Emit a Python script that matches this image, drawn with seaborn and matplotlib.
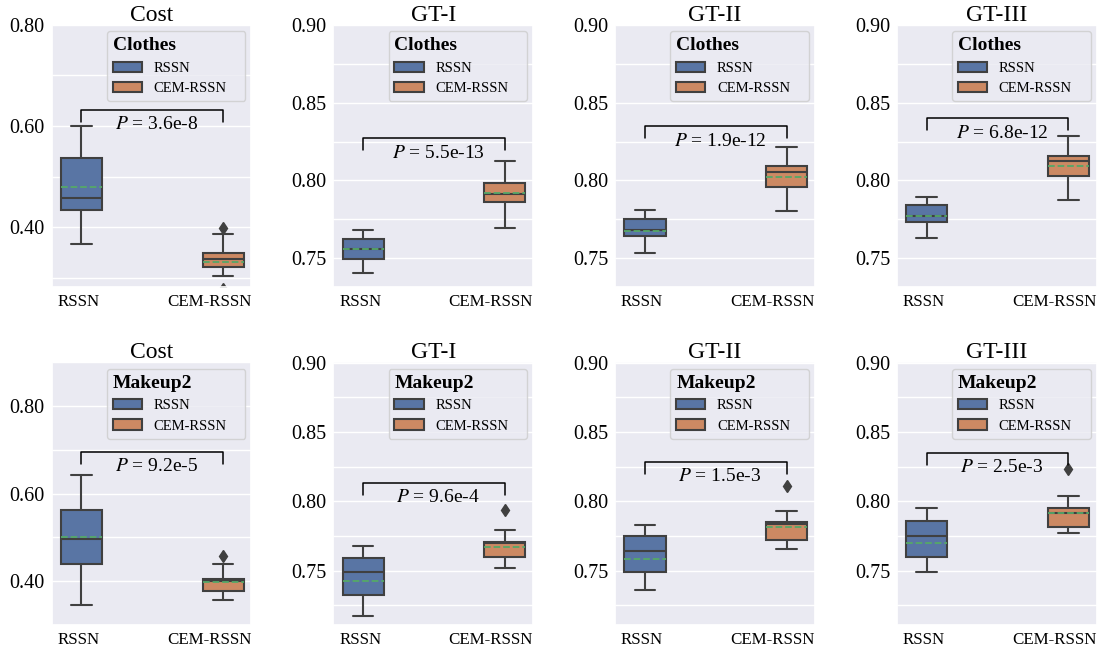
import matplotlib
matplotlib.use("Agg")
import matplotlib.pyplot as plt
import matplotlib.transforms as mtransforms
from matplotlib.patches import Patch
from matplotlib.ticker import MultipleLocator, FormatStrFormatter
import pandas as pd
import seaborn as sns


# ------------------ DATA ------------------

METHODS = ["RSSN", "CEM-RSSN"]
METRICS = ["Cost", "GT-I", "GT-II", "GT-III"]
DATASETS = ["Clothes", "Makeup2"]

# Clothes
clothes_cost_rssn = [0.366, 0.400, 0.435, 0.445, 0.457, 0.500, 0.536, 0.581, 0.600]
clothes_cost_cem = [0.220, 0.278, 0.303, 0.322, 0.328, 0.333, 0.338, 0.340, 0.345,
                    0.3495, 0.360, 0.387, 0.399]
clothes_gt1_rssn = [0.7402, 0.747, 0.7496, 0.7535, 0.7556, 0.761, 0.7625, 0.7663, 0.7683]
clothes_gt1_cem = [0.7691, 0.780, 0.7863, 0.789, 0.7912, 0.796, 0.7983, 0.8059, 0.8122]
clothes_gt2_rssn = [0.753, 0.757, 0.7642, 0.7656, 0.768, 0.768, 0.7753, 0.7753, 0.7811]
clothes_gt2_cem = [0.7803, 0.786, 0.7959, 0.799, 0.8051, 0.8055, 0.8094, 0.819, 0.8214]
clothes_gt3_rssn = [0.7631, 0.768, 0.773, 0.775, 0.777, 0.7776, 0.7843, 0.786, 0.789]
clothes_gt3_cem = [0.7871, 0.794, 0.8028, 0.806, 0.8124, 0.8126, 0.8154, 0.826, 0.8283]

# Makeup2
makeup2_cost_rssn = [0.3452, 0.400, 0.4397, 0.470, 0.4957, 0.530, 0.563, 0.6148, 0.6416]
makeup2_cost_cem = [0.357, 0.362, 0.378, 0.388, 0.401, 0.402, 0.406, 0.440, 0.457]
makeup2_gt1_rssn = [0.7173, 0.7174, 0.720, 0.7327, 0.734, 0.736, 0.7492, 0.7492, 0.750,
                    0.7593, 0.7593, 0.760, 0.7681]
makeup2_gt1_cem = [0.7521, 0.753, 0.756, 0.760, 0.762, 0.765, 0.770, 0.770, 0.7705,
                   0.7708, 0.771, 0.7792, 0.794]
makeup2_gt2_rssn = [0.7363, 0.7363, 0.737, 0.7492, 0.7492, 0.7495, 0.7645, 0.7645, 0.7645,
                    0.7753, 0.7753, 0.7757, 0.7832]
makeup2_gt2_cem = [0.766, 0.767, 0.770, 0.772, 0.774, 0.779, 0.7837, 0.784, 0.785,
                   0.7854, 0.7862, 0.7933, 0.8113]
makeup2_gt3_rssn = [0.7492, 0.7492, 0.750, 0.7597, 0.7597, 0.7605, 0.7748, 0.7748, 0.7752,
                    0.7861, 0.7861, 0.7867, 0.7952]
makeup2_gt3_cem = [0.7772, 0.7775, 0.7813, 0.7818, 0.7914, 0.7914, 0.7952, 0.8036, 0.8232]

p_clothes = ["3.6e-8", "5.5e-13", "1.9e-12", "6.8e-12"]
p_makeup2 = ["9.2e-5", "9.6e-4", "1.5e-3", "2.5e-3"]

SAMPLES = {
    "Clothes": [(clothes_cost_rssn, clothes_cost_cem),
                (clothes_gt1_rssn, clothes_gt1_cem),
                (clothes_gt2_rssn, clothes_gt2_cem),
                (clothes_gt3_rssn, clothes_gt3_cem)],
    "Makeup2": [(makeup2_cost_rssn, makeup2_cost_cem),
                (makeup2_gt1_rssn, makeup2_gt1_cem),
                (makeup2_gt2_rssn, makeup2_gt2_cem),
                (makeup2_gt3_rssn, makeup2_gt3_cem)],
}
PVALS = {"Clothes": p_clothes, "Makeup2": p_makeup2}


# ------------------ LAYOUT ------------------

YLIMS = {
    "Clothes": [(0.281, 0.8002), (0.731, 0.9002), (0.731, 0.9002), (0.731, 0.9002)],
    "Makeup2": [(0.30, 0.9002), (0.711, 0.9002), (0.711, 0.9002), (0.711, 0.9002)],
}
BRACKET_Y = {
    "Clothes": [0.632, 0.827, 0.8347, 0.8399],
    "Makeup2": [0.6953, 0.8132, 0.8285, 0.835],
}


# ------------------ STYLE ------------------

sns.set_theme(style="darkgrid")
SERIF = ["Liberation Serif", "DejaVu Serif"]
plt.rcParams["font.family"] = SERIF
plt.rcParams["mathtext.fontset"] = "stix"
plt.rcParams["text.color"] = "black"
plt.rcParams["xtick.color"] = "black"
plt.rcParams["ytick.color"] = "black"

GREEN = sns.color_palette("deep")[2]
LINE = "#404040"


# ------------------ PLOTTING ------------------

fig, axes = plt.subplots(2, 4, figsize=(10.99, 6.53), dpi=100)
fig.subplots_adjust(left=0.047, right=0.998, top=0.962, bottom=0.043,
                    wspace=0.41, hspace=0.285)

for r, ds in enumerate(DATASETS):
    for c, metric in enumerate(METRICS):
        ax = axes[r, c]
        rssn, cem = SAMPLES[ds][c]
        df = pd.DataFrame({
            "method": ["RSSN"] * len(rssn) + ["CEM-RSSN"] * len(cem),
            "value": rssn + cem,
        })

        sns.boxplot(
            data=df, x="method", y="value", hue="method",
            order=METHODS, hue_order=METHODS, palette="deep",
            width=0.29, linewidth=1.5, linecolor=LINE,
            showmeans=True, meanline=True,
            meanprops=dict(color=GREEN, linestyle="--", linewidth=1.3),
            flierprops=dict(marker="d", markersize=6,
                            markerfacecolor=LINE, markeredgecolor=LINE),
            legend=False, ax=ax,
        )

        ax.set_xlim(-0.21, 1.2)
        ax.set_ylim(*YLIMS[ds][c])
        ax.set_xlabel("")
        ax.set_ylabel("")
        ax.set_title(metric, fontsize=17, pad=3)

        if metric == "Cost":
            ax.yaxis.set_major_locator(MultipleLocator(0.2))
            ax.yaxis.set_minor_locator(MultipleLocator(0.1))
        else:
            ax.yaxis.set_major_locator(MultipleLocator(0.05))
            ax.yaxis.set_minor_locator(MultipleLocator(0.025))
        ax.yaxis.set_major_formatter(FormatStrFormatter("%.2f"))
        ax.grid(which="minor", axis="y", color="white", linewidth=1)
        ax.tick_params(axis="y", which="major", labelsize=14.5, pad=5, length=0)
        ax.tick_params(axis="y", which="minor", length=0)
        ax.tick_params(axis="x", labelsize=12.2, pad=5, length=0)

        # x labels sit a little left of their boxes in the original
        for lab, dx in zip(ax.get_xticklabels(), [-0.03, -0.14]):
            shift = mtransforms.ScaledTranslation(dx, 0, fig.dpi_scale_trans)
            lab.set_transform(lab.get_transform() + shift)

        # significance bracket
        lo, hi = ax.get_ylim()
        h = BRACKET_Y[ds][c]
        drop = 0.045 * (hi - lo)
        ax.plot([0, 0, 1, 1], [h - drop, h, h, h - drop], color="black", linewidth=1.1)
        ax.annotate(r"$P$ = " + PVALS[ds][c], xy=(0.53, h), xytext=(0, -4.5),
                    textcoords="offset points", ha="center", va="top", fontsize=14)

        # legend from the drawn boxes
        handles = []
        for i, m in enumerate(METHODS):
            box = ax.patches[i]
            handles.append(Patch(facecolor=box.get_facecolor(),
                                 edgecolor=box.get_edgecolor(),
                                 linewidth=1.5, label=m))
        ax.legend(handles=handles, title=ds, loc="upper right",
                  bbox_to_anchor=(0.276, 0.0, 0.694, 0.975), mode="expand",
                  borderaxespad=0.0,
                  prop={"family": SERIF, "size": 10.5},
                  title_fontproperties={"family": SERIF, "weight": "bold", "size": 14},
                  alignment="left", frameon=True)

fig.savefig("out.png", dpi=100)
